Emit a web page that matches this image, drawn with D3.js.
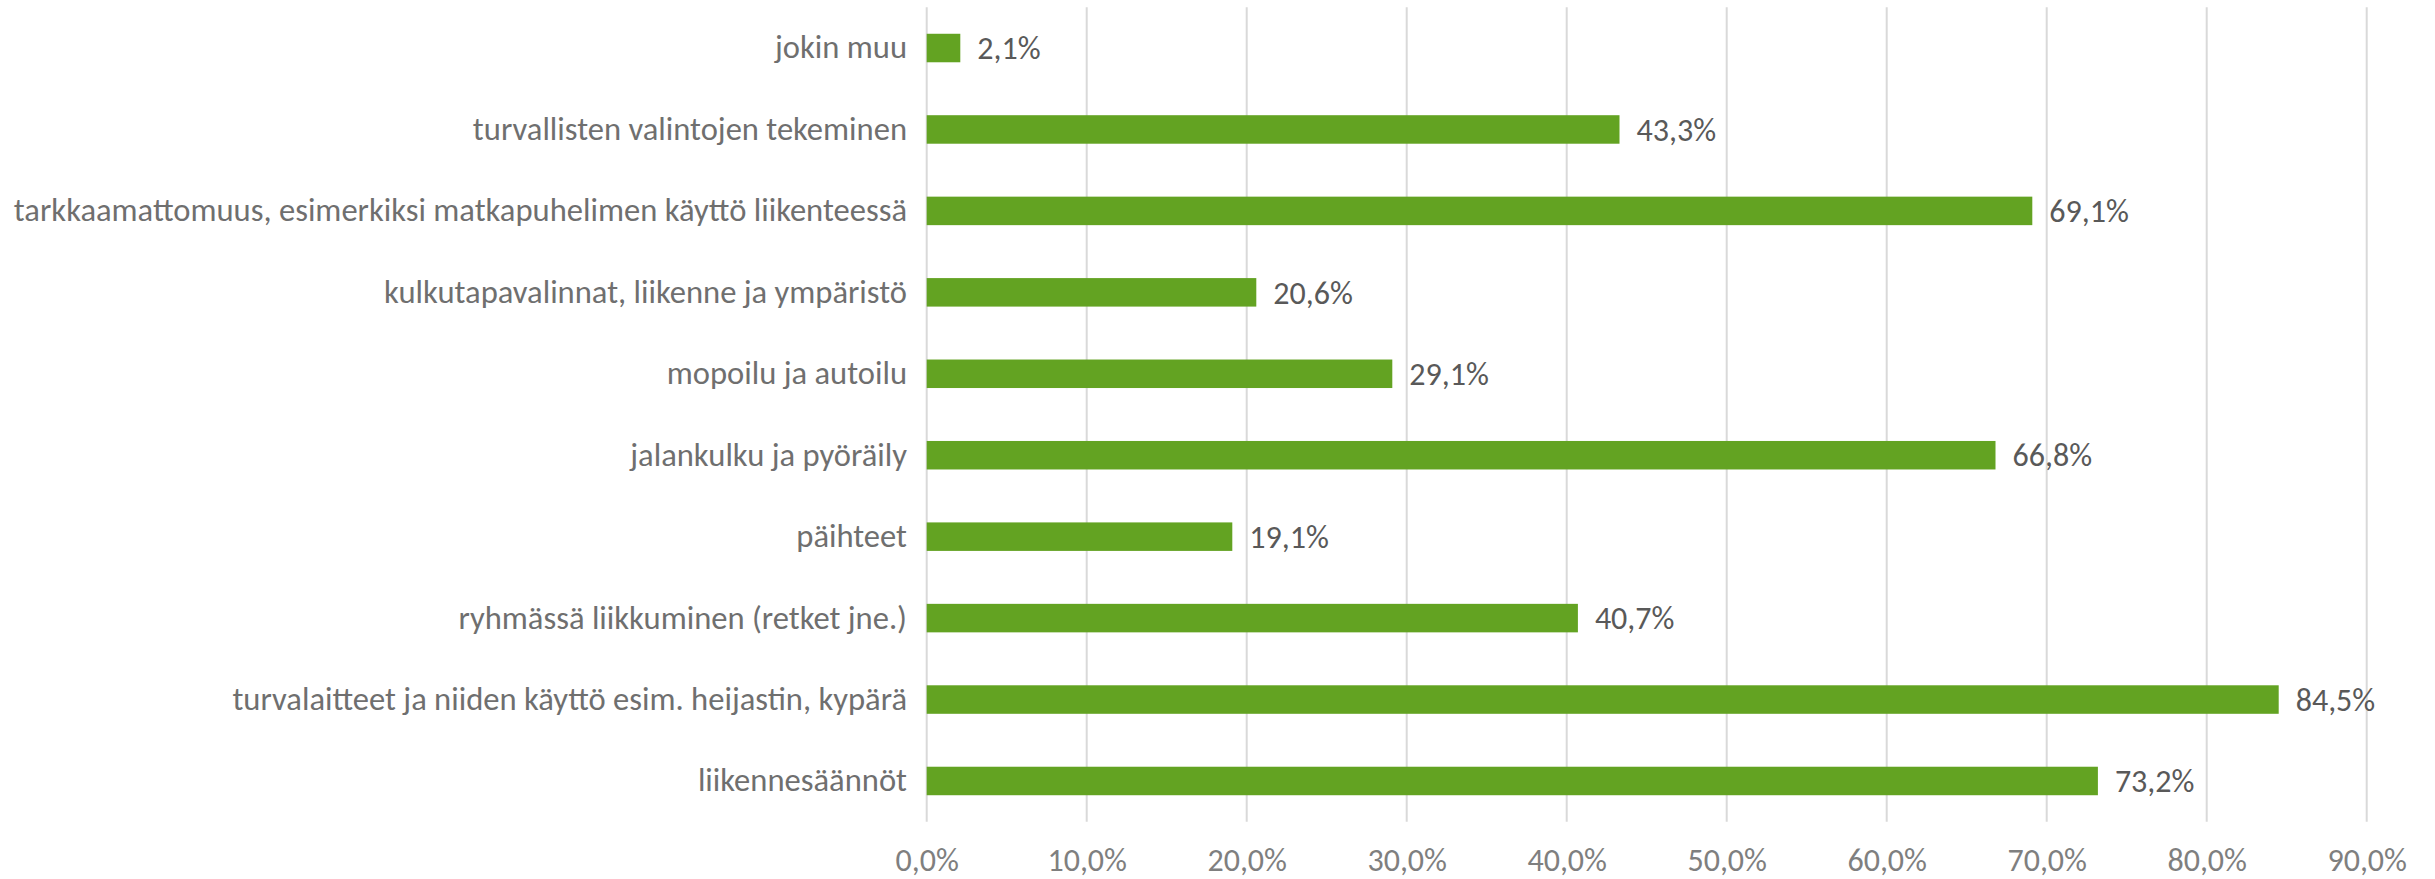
<!DOCTYPE html>
<html><head><meta charset="utf-8">
<script src="https://cdn.jsdelivr.net/npm/d3@7"></script>
<style>html,body{margin:0;padding:0;background:#fff;}</style>
</head><body>
<svg id="chart" width="2435" height="879"></svg>
<script>
const categories = [
  "jokin muu",
  "turvallisten valintojen tekeminen",
  "tarkkaamattomuus, esimerkiksi matkapuhelimen käyttö liikenteessä",
  "kulkutapavalinnat, liikenne ja ympäristö",
  "mopoilu ja autoilu",
  "jalankulku ja pyöräily",
  "päihteet",
  "ryhmässä liikkuminen (retket jne.)",
  "turvalaitteet ja niiden käyttö esim. heijastin, kypärä",
  "liikennesäännöt"
];
const values = [2.1, 43.3, 69.1, 20.6, 29.1, 66.8, 19.1, 40.7, 84.5, 73.2];
const tickValues = [0, 10, 20, 30, 40, 50, 60, 70, 80, 90];

(function () {
const fmt = v => v.toFixed(1).replace(".", ",") + "%";
const FONT = "Carlito, Calibri, Lato, 'Open Sans', sans-serif";

const svg = d3.select("#chart");
const mLeft = 926.7, mRight = 2366.7, mTop = 7.3, mBottom = 821.7;

const x = d3.scaleLinear().domain([0, 90]).range([mLeft, mRight]);
const y = d3.scaleBand().domain(categories).range([mTop, mBottom])
  .paddingInner(0.65).paddingOuter(0.325);

svg.append("g").selectAll("line").data(tickValues).join("line")
  .attr("x1", d => x(d)).attr("x2", d => x(d))
  .attr("y1", mTop).attr("y2", mBottom)
  .attr("stroke", "#d9d9d9").attr("stroke-width", 2);

const xAxis = d3.axisBottom(x).tickValues(tickValues).tickSize(0).tickPadding(0)
  .tickFormat(d => fmt(d));
const gx = svg.append("g").attr("transform", `translate(0,${mBottom})`).call(xAxis);
gx.select(".domain").remove();
gx.selectAll("text").attr("dy", null).attr("y", 49)
  .attr("font-family", FONT).attr("font-size", 32).attr("fill", "#7f7f7f");

svg.append("g").selectAll("rect").data(values).join("rect")
  .attr("x", x(0))
  .attr("y", (d, i) => y(categories[i]))
  .attr("width", d => x(d) - x(0))
  .attr("height", y.bandwidth())
  .attr("fill", "#63a322");

svg.append("g").selectAll("text").data(values).join("text")
  .attr("x", d => x(d) + 17)
  .attr("y", (d, i) => y(categories[i]) + y.bandwidth() / 2)
  .attr("dy", "0.35em")
  .attr("font-family", FONT).attr("font-size", 32).attr("fill", "#595959")
  .text(d => fmt(d));

const yAxis = d3.axisLeft(y).tickSize(0).tickPadding(0);
const gy = svg.append("g").attr("transform", `translate(907,0)`).call(yAxis);
gy.select(".domain").remove();
gy.selectAll("text").attr("x", 0)
  .attr("font-family", FONT).attr("font-size", 32.6).attr("fill", "#6f6f6f");
})();
</script>
</body></html>
